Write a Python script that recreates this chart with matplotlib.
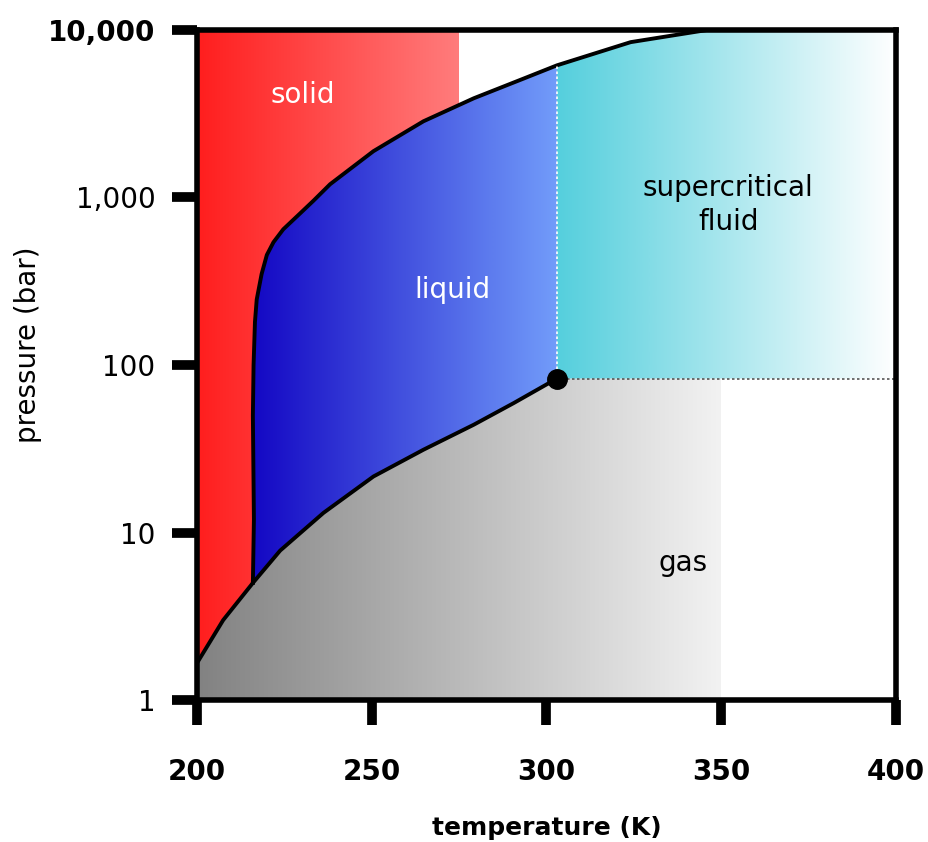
import numpy as np
import matplotlib
matplotlib.use('Agg')
import matplotlib.pyplot as plt
from matplotlib.patches import Polygon
from matplotlib.colors import LinearSegmentedColormap
from matplotlib.ticker import NullLocator

# --- phase boundaries (T in K, P in bar) ---
sub_T = [200, 207.5, 216]
sub_P = [1.66, 3.0, 5.0]

vap_T = [216, 223.8, 236.2, 250.5, 264.8, 279.2, 290.6, 303]
vap_P = [5.0, 7.8, 13.1, 21.6, 31.2, 44.0, 59.2, 83]

melt_T = [216, 216.3, 216.0, 216.2, 216.6, 217.1, 218.5, 220.0, 221.9, 224.7,
          229.5, 233.3, 238.1, 250.5, 264.8, 279.2, 293.5, 303, 324.1, 346]
melt_P = [5.0, 12, 50, 100, 181, 246, 349, 454, 541, 646,
          803, 955, 1200, 1890, 2850, 3910, 5130, 6150, 8460, 10000]

crit_T, crit_P = 303, 83
solid_T_max = 275
gas_T_max = 350

tick_T = [200, 250, 300, 350, 400]
tick_P = [1, 10, 100, 1000, 10000]
tick_P_labels = ['1', '10', '100', '1,000', '10,000']

fig = plt.figure(figsize=(9.29, 8.42), dpi=100)
ax = fig.add_axes([0.212, 0.1686, 0.7524, 0.7958])
ax.set_yscale('log')


def gradient_fill(x0, x1, c0, c1, verts):
    # horizontal colour gradient clipped to a polygon
    cmap = LinearSegmentedColormap.from_list('g', [c0, c1])
    grad = np.vstack([np.linspace(0, 1, 256)] * 2)
    im = ax.imshow(grad, cmap=cmap, extent=[x0, x1, 1, 10000], aspect='auto',
                   origin='lower', interpolation='bilinear', zorder=1)
    patch = Polygon(verts, closed=True, transform=ax.transData,
                    facecolor='none', edgecolor='none')
    im.set_clip_path(patch)


# solid: plain rectangle, the other phases are painted over it
gradient_fill(200, solid_T_max, '#ff1e1e', '#ff7c7c',
              [(200, 1), (200, 10000), (solid_T_max, 10000), (solid_T_max, 1)])

# gas
gas_verts = [(200, 1)] + list(zip(sub_T, sub_P)) + list(zip(vap_T[1:], vap_P[1:]))
gas_verts += [(gas_T_max, crit_P), (gas_T_max, 1)]
gradient_fill(200, gas_T_max, '#828282', '#f2f2f2', gas_verts)

# liquid
n_crit = melt_T.index(crit_T)
liq_verts = list(zip(melt_T[:n_crit + 1], melt_P[:n_crit + 1]))
liq_verts += list(zip(vap_T[::-1], vap_P[::-1]))
gradient_fill(216, crit_T, '#1408c4', '#729cfa', liq_verts)

# supercritical fluid
sc_verts = [(crit_T, crit_P)] + list(zip(melt_T[n_crit:], melt_P[n_crit:]))
sc_verts += [(400, 10000), (400, crit_P)]
gradient_fill(crit_T, 400, '#55cfdd', '#ffffff', sc_verts)

# boundary lines
ax.plot(sub_T + vap_T[1:], sub_P + vap_P[1:], color='black', lw=2.8, zorder=3,
        solid_joinstyle='round')
ax.plot(melt_T, melt_P, color='black', lw=2.8, zorder=3, solid_joinstyle='round')
ax.plot([crit_T, crit_T], [crit_P, melt_P[n_crit]], color='white', lw=1.2,
        ls=(0, (1.5, 1.5)), zorder=3)
ax.plot([crit_T, 400], [crit_P, crit_P], color='#555555', lw=1.2,
        ls=(0, (1.5, 1.5)), zorder=3)
ax.plot(crit_T, crit_P, 'o', color='black', ms=14, zorder=5)

# phase labels
ax.text(230.4, 4080, 'solid', color='white', fontsize=20, ha='center', va='center', zorder=6)
ax.text(273.2, 279, 'liquid', color='white', fontsize=20, ha='center', va='center', zorder=6)
ax.text(352, 900, 'supercritical\nfluid', color='black', fontsize=20, ha='center',
        va='center', linespacing=1.3, zorder=6)
ax.text(339, 6.6, 'gas', color='black', fontsize=20, ha='center', va='center', zorder=6)

ax.set_xlim(200, 400)
ax.set_ylim(1, 10000)

# --- axes styling ---
ax.set_xticks(tick_T)
ax.set_yticks(tick_P)
ax.set_yticklabels(tick_P_labels)
ax.yaxis.set_minor_locator(NullLocator())
ax.tick_params(axis='both', length=18, width=7, direction='out', color='black')
ax.tick_params(axis='y', labelsize=20, pad=12)
ax.tick_params(axis='x', labelsize=20, pad=24)
for lab in ax.get_xticklabels():
    lab.set_fontweight('bold')
ax.get_yticklabels()[-1].set_fontweight('bold')

for sp in ax.spines.values():
    sp.set_linewidth(4)
    sp.set_zorder(4)

ax.set_xlabel('temperature (K)', fontsize=18, fontweight='bold', va='center')
ax.xaxis.set_label_coords(0.5, -0.191)
ax.set_ylabel('pressure (bar)', fontsize=20, va='center', ha='center')
ax.yaxis.set_label_coords(-0.242, 0.53)

plt.savefig('out.png', dpi=100)
